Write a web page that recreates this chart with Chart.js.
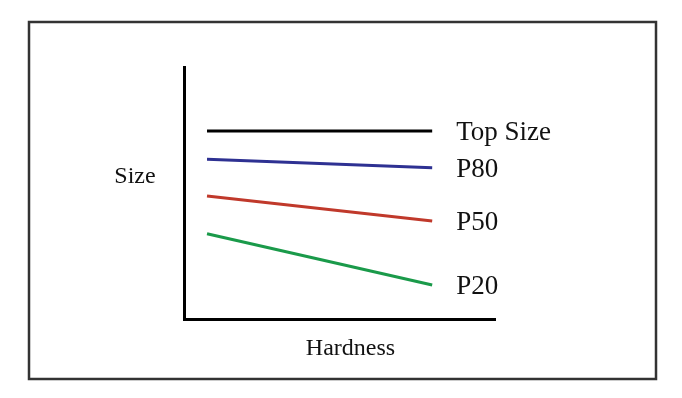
<!DOCTYPE html>
<html>
<head>
<meta charset="utf-8">
<script src="https://cdn.jsdelivr.net/npm/chart.js@4"></script>
<style>
    html, body { margin: 0; padding: 0; background: #fff; }
    #wrap { width: 682px; height: 398px; position: relative; }
</style>
</head>
<body>
<div id="wrap"><canvas id="size-chart"></canvas></div>
<script>
const hardness = [7.4, 79.8];
const topSize = [74.6, 74.6];
const p80 = [63.4, 60.0];
const p50 = [48.8, 38.9];
const p20 = [33.8, 13.5];
const seriesLabels = ["Top Size", "P80", "P50", "P20"];
const seriesColors = ["#000000", "#2e3192", "#c0392b", "#1a9a4a"];
const xTitle = "Hardness";
const yTitle = "Size";

const SERIF = "'Liberation Serif', 'Times New Roman', serif";

const toPoints = values => values.map((v, i) => ({ x: hardness[i], y: v }));

// frame round the figure, axis titles (both horizontal), end-of-line labels
const decorations = {
    id: "decorations",
    afterDraw(chart) {
        const { ctx, chartArea } = chart;
        ctx.save();
        ctx.strokeStyle = "#333";
        ctx.lineWidth = 2.5;
        ctx.strokeRect(29, 22, 627, 357);

        ctx.fillStyle = "#111";
        ctx.font = `24px ${SERIF}`;
        ctx.textAlign = "center";
        ctx.textBaseline = "middle";
        ctx.fillText(yTitle, chartArea.left - 49, 177);
        ctx.fillText(xTitle, (chartArea.left + chartArea.right) / 2 + 11, chartArea.bottom + 30);

        ctx.font = `27px ${SERIF}`;
        ctx.textAlign = "left";
        chart.data.datasets.forEach((ds, i) => {
            const meta = chart.getDatasetMeta(i);
            const last = meta.data[meta.data.length - 1];
            ctx.fillText(ds.label, last.x + 24, last.y + 2);
        });
        ctx.restore();
    }
};

new Chart(document.getElementById("size-chart"), {
    type: "line",
    data: {
        datasets: [topSize, p80, p50, p20].map((values, i) => ({
            label: seriesLabels[i],
            data: toPoints(values),
            borderColor: seriesColors[i],
            borderWidth: 3,
            pointRadius: 0,
            tension: 0
        }))
    },
    options: {
        responsive: true,
        maintainAspectRatio: false,
        animation: false,
        layout: { padding: { left: 184, right: 187, top: 67, bottom: 79 } },
        plugins: {
            legend: { display: false },
            tooltip: { enabled: false }
        },
        scales: {
            x: {
                type: "linear",
                min: 0,
                max: 100,
                grid: { display: false, drawTicks: false },
                border: { display: true, color: "#000", width: 3 },
                ticks: { display: false }
            },
            y: {
                min: 0,
                max: 100,
                grid: { display: false, drawTicks: false },
                border: { display: true, color: "#000", width: 3 },
                ticks: { display: false }
            }
        }
    },
    plugins: [decorations]
});
</script>
</body>
</html>
